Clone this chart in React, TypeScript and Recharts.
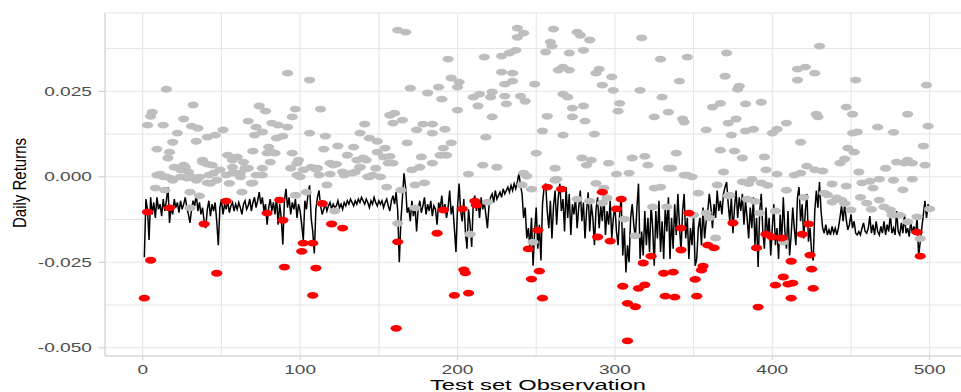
import React from "react";
import { ComposedChart, Scatter, Line, XAxis, YAxis, CartesianGrid } from "recharts";

// Observation index (x) and daily returns (y) of points above the VaR line
const grayObs = [
  15, 92, 106, 6, 5, 3, 13, 32, 26, 31, 35, 22, 19, 9, 16, 26, 24, 11, 34, 41,
  46, 51, 38, 44, 49, 36, 54, 60, 64, 57, 66, 70, 67, 74, 78, 72, 71, 76, 82, 86,
  92, 97, 95, 85, 89, 80, 79, 84, 95, 76, 98, 94, 102, 106, 116, 113, 115, 124, 130, 134,
  138, 141, 144, 149, 154, 157, 159, 119, 123, 111, 119, 127, 133, 136, 140, 148, 144, 157, 160, 159,
  162, 9, 15, 19, 28, 41, 47, 53, 62, 70, 81, 117, 146, 155, 8, 14, 30, 36, 30, 43,
  55, 63, 69, 97, 104, 100, 114, 122, 162, 18, 24, 27, 42, 57, 60, 67, 72, 98, 107, 112,
  128, 135, 138, 143, 151, 31,
  38, 41, 57, 65, 62, 76, 82, 99, 110, 121, 138, 142, 149, 153, 156, 17, 20, 13, 29, 45, 34,
  167, 238, 242, 238, 261, 276, 278, 284, 259, 260, 256, 271, 280, 317, 194, 217, 228, 233, 237, 329,
  267, 264, 271, 290, 288, 298, 228, 235, 196, 201, 235, 230, 249, 200, 170, 188, 181, 190, 210, 214,
  222, 230, 240, 243, 231, 213, 221, 267, 270, 303, 316, 330, 299, 292, 273, 280, 302, 200, 165, 222,
  257, 273, 281, 325, 178, 184, 192, 174, 184, 254, 267, 287, 218, 168, 196, 191, 189, 193, 177, 184,
  176, 171, 250, 279, 285, 282, 296, 311, 319, 321, 216, 225, 207, 262, 301, 309, 242, 244, 334, 179,
  173, 164, 173, 219, 208, 241, 247, 248, 263, 276, 284, 288, 293, 295, 292, 306, 313, 325, 329, 324,
  333, 262,
  346, 371, 430, 370, 341, 379, 378, 416, 421, 427, 416, 453, 498, 362, 367, 383, 393, 334, 343, 344,
  377, 372, 358, 383, 388, 374, 400, 403, 409, 428, 429, 447, 451, 486, 499, 467, 477, 451, 454, 418,
  448, 452, 496, 339, 367, 376, 381, 395, 336, 346, 349, 369, 396, 403, 414, 418, 422, 432, 443, 446,
  455, 472, 479, 486, 489, 497, 489, 365, 381, 387, 393, 438, 447, 457, 462, 468, 477, 483, 409, 420,
  435, 438, 444, 456, 460, 464, 468, 475, 481, 486, 492, 500, 494, 350, 358, 360, 364, 373, 392, 402,
  407, 353, 385, 397, 344, 427, 484, 372, 384, 389, 433, 441, 446, 450, 463, 471, 476,
];
const grayRet = [
  0.0256, 0.0303, 0.0283, 0.0189, 0.0177, 0.0151, 0.0151, 0.021, 0.0169, 0.0148, 0.0142, 0.0128, 0.0101, 0.0081, 0.0055, 0.0034, 0.002, 0.0008, 0.0104, 0.0116,
  0.0122, 0.0137, 0.0043, 0.0034, 0.002, -0.0001, 0.0063, 0.0058, 0.0043, 0.0011, 0.0023, 0.0075, 0.0163, 0.0207, 0.0192, 0.0145, 0.0122, 0.0131, 0.0157, 0.0151,
  0.0145, 0.0198, 0.0175, 0.0113, 0.0119, 0.0087, 0.0069, 0.0069, 0.0069, 0.0005, 0.004, 0.0025, 0.002, 0.0128, 0.0119, 0.0198, 0.0081, 0.009, 0.0063, 0.0087,
  0.0128, 0.0154, 0.0113, 0.0104, 0.0084, 0.006, 0.004, 0.004, 0.0037, 0.0025, 0.0008, 0.0014, 0.0011, 0.0049, 0.0055, 0.0025, 0.0, 0.018, 0.0186, 0.0157,
  0.0429, 0.0005, 0.0, -0.001, -0.0004, -0.0018, -0.001, 0.0005, 0.0, -0.0018, 0.0043, -0.0024, 0.0005, -0.003, -0.0033, -0.0039, -0.0045, -0.0056, -0.0091, -0.0019,
  -0.0019, -0.0045, -0.0019, -0.0054, -0.0045, 0.0, -0.0078, -0.01, -0.0136, -0.0005, 0.0, 0.0028, 0.0005, 0.0028, 0.0011, 0.0025, 0.0005, 0.0005, 0.0028, 0.0005,
  0.0005, 0.0014, 0.0028, 0.0, 0.0, 0.0,
  0.0049, 0.0037, 0.0049, 0.0025, 0.0011, 0.0025, 0.0072, 0.0049, 0.0022, 0.0034, 0.0028, 0.0049, 0.0072, 0.0058, 0.004, 0.0072, 0.0028, 0.0, 0.0014, 0.0011, -0.001,
  0.0423, 0.0435, 0.042, 0.0408, 0.0432, 0.0423, 0.0414, 0.04, 0.0394, 0.0382, 0.0365, 0.0362, 0.037, 0.0406, 0.0344, 0.035, 0.0353, 0.0362, 0.037, 0.0344,
  0.0321, 0.0312, 0.0312, 0.0315, 0.0303, 0.0292, 0.0306, 0.0303, 0.0289, 0.0277, 0.028, 0.0271, 0.0271, 0.0262, 0.0259, 0.0262, 0.0245, 0.0227, 0.0233, 0.0242,
  0.0248, 0.0236, 0.0236, 0.0221, 0.0213, 0.0207, 0.0233, 0.0242, 0.0233, 0.0215, 0.0253, 0.0233, 0.0253, 0.0268, 0.0201, 0.0207, 0.0192, 0.0195, 0.0166, 0.0175,
  0.0177, 0.0175, 0.0163, 0.0175, 0.0154, 0.0154, 0.0139, 0.0137, 0.0128, 0.0134, 0.0122, 0.0125, 0.0116, 0.0099, 0.0099, 0.0084, 0.0063, 0.0063, 0.0058, 0.004,
  0.0028, 0.002, 0.0069, 0.0055, 0.0049, 0.0034, 0.004, 0.0055, 0.006, 0.0034, 0.0034, 0.0028, 0.0008, 0.0025, 0.0008, 0.0011, 0.0011, 0.0002, 0.0025, -0.0018,
  -0.0024, -0.0039, -0.0091, -0.0074, -0.0168, -0.0024, -0.0036, -0.0191, -0.0007, -0.0065, -0.0071, -0.0019, -0.0033, -0.0062, -0.0077, -0.0124, -0.0173, -0.0033, -0.003, -0.0088,
  -0.0088, -0.001,
  0.035, 0.0362, 0.0382, 0.0294, 0.028, 0.0265, 0.0256, 0.0315, 0.0321, 0.0303, 0.0283, 0.0283, 0.0268, 0.0204, 0.0215, 0.0213, 0.0218, 0.0189, 0.0169, 0.016,
  0.0169, 0.0157, 0.0137, 0.0134, 0.0139, 0.0122, 0.0128, 0.0139, 0.0157, 0.0183, 0.0175, 0.0204, 0.0183, 0.0183, 0.0148, 0.0145, 0.013, 0.0128, 0.0131, 0.0101,
  0.0084, 0.0072, 0.009, 0.0069, 0.0078, 0.0075, 0.0055, 0.0058, 0.0025, 0.0005, 0.0, 0.0014, 0.002, 0.0008, 0.0005, 0.0011, 0.0031, 0.0017, 0.004, 0.0052,
  0.0014, 0.0025, 0.0043, 0.0049, 0.004, 0.0034, -0.0007, -0.0024, -0.0015, -0.0007, -0.0018, -0.0021, -0.0027, -0.0018, -0.0013, -0.0007, -0.001, -0.0038, -0.0039, -0.006,
  -0.0053, -0.0074, -0.0068, -0.006, -0.0077, -0.0033, -0.0068, -0.0097, -0.0112, -0.0132, -0.0117, -0.0094, -0.0181, -0.0112, -0.0106, -0.012, -0.0179, -0.0054, -0.0106, -0.01,
  -0.0191, -0.0048, -0.002, -0.0025, 0.0005, 0.002, 0.004, -0.0056, -0.0065, -0.0072, -0.0048, -0.0062, -0.0078, -0.0097, -0.0095, -0.0088, -0.0112,
];

// Observations below the VaR estimate (exceedances)
const redObs = [
  3, 5, 1, 17, 39, 47, 53, 79, 87, 89, 90, 102, 108, 101, 110, 108, 114, 120, 127, 161,
  162, 187, 191, 198, 203, 204, 205, 207, 211, 212, 245, 247, 251, 252, 254, 257, 266, 289, 297, 292,
  304, 301, 305, 308, 313, 308, 315, 319, 318, 323, 331, 332, 337, 338, 342, 342, 347, 352, 351, 355,
  356, 359, 363, 375, 390, 391, 396, 400, 406, 407, 402, 410, 413, 412, 412, 419, 423, 424, 425, 426,
  492, 494,
];
const redRet = [
  -0.0103, -0.0244, -0.0355, -0.0091, -0.0138, -0.0282, -0.0071, -0.0106, -0.0068, -0.0127, -0.0264, -0.0194, -0.0194, -0.0218, -0.0267, -0.0347, -0.0078, -0.0138, -0.015, -0.0443,
  -0.019, -0.0165, -0.0097, -0.0347, -0.0094, -0.0272, -0.0281, -0.034, -0.0071, -0.0083, -0.0211, -0.0299, -0.0156, -0.0276, -0.0355, -0.003, -0.0036, -0.0176, -0.0188, -0.0045,
  -0.0065, -0.0094, -0.032, -0.037, -0.038, -0.048, -0.0326, -0.0316, -0.0252, -0.0232, -0.0282, -0.0349, -0.0279, -0.0352, -0.015, -0.0214, -0.0106, -0.0349, -0.03, -0.0273,
  -0.0261, -0.02, -0.0208, -0.0135, -0.0208, -0.0381, -0.0168, -0.0176, -0.0179, -0.0293, -0.0317, -0.0314, -0.0311, -0.0247, -0.0355, -0.0168, -0.0138, -0.0229, -0.027, -0.0326,
  -0.0162, -0.0232,
];

// VaR estimate for observations 1..500
const varRet = [
  -0.0235, -0.0065, -0.0095, -0.0185, -0.006, -0.011, -0.0075, -0.012, -0.006, -0.0095,
  -0.008, -0.0115, -0.0065, -0.01, -0.007, -0.003, -0.0135, -0.0085, -0.011, -0.0065,
  -0.009, -0.0075, -0.0105, -0.007, -0.0095, -0.008, -0.006, -0.009, -0.011, -0.0135,
  -0.0095, -0.007, -0.0085, -0.005, -0.01, -0.0075, -0.011, -0.009, -0.013, -0.015,
  -0.0095, -0.007, -0.0115, -0.008, -0.01, -0.0075, -0.013, -0.02, -0.009, -0.0065,
  -0.011, -0.008, -0.0095, -0.007, -0.0105, -0.0085, -0.0075, -0.01, -0.008, -0.0095,
  -0.0075, -0.009, -0.011, -0.008, -0.007, -0.0095, -0.0085, -0.0065, -0.01, -0.0075,
  -0.006, -0.009, -0.007, -0.0045, -0.008, -0.006, -0.01, -0.008, -0.014, -0.009,
  -0.0065, -0.01, -0.0075, -0.011, -0.006, -0.014, -0.008, -0.012, -0.0198, -0.007,
  -0.0035, -0.009, -0.006, -0.011, -0.0075, -0.0095, -0.0065, -0.012, -0.008, -0.01,
  -0.014, -0.0185, -0.007, -0.0095, -0.005, -0.0025, -0.012, -0.016, -0.0224, -0.0095,
  -0.006, -0.004, -0.0085, -0.011, -0.0095, -0.008, -0.01, -0.0085, -0.0075, -0.0095,
  -0.008, -0.009, -0.0085, -0.007, -0.009, -0.008, -0.0095, -0.0075, -0.0085, -0.007,
  -0.008, -0.0065, -0.0075, -0.0085, -0.007, -0.008, -0.0065, -0.0075, -0.006, -0.007,
  -0.008, -0.0065, -0.0075, -0.009, -0.007, -0.008, -0.006, -0.0075, -0.0085, -0.007,
  -0.008, -0.007, -0.009, -0.0075, -0.0065, -0.0085, -0.01, -0.007, -0.0055, -0.008,
  -0.0045, -0.01, -0.025, -0.013, -0.006, 0.001, -0.003, -0.0105, -0.009, -0.013,
  -0.007, -0.0115, -0.0085, -0.016, -0.0095, -0.007, -0.0105, -0.0085, -0.006, -0.011,
  -0.008, -0.01, -0.007, -0.0115, -0.0085, -0.0095, -0.014, -0.0075, -0.0095, -0.0055,
  -0.0105, -0.008, -0.012, -0.009, -0.004, -0.011, -0.0085, -0.015, -0.022, -0.009,
  -0.002, -0.01, -0.013, -0.0065, -0.016, -0.021, -0.0095, -0.014, -0.0205, -0.0075,
  -0.0055, -0.01, -0.007, -0.012, -0.006, -0.0095, -0.0075, -0.011, -0.015, -0.0085,
  -0.006, -0.005, -0.0075, -0.004, -0.0065, -0.0055, -0.0045, -0.006, -0.0035, -0.005,
  -0.004, -0.003, -0.0045, -0.0025, -0.004, -0.002, -0.0035, -0.0015, 0.001, -0.0025,
  -0.005, -0.012, -0.009, -0.018, -0.015, -0.0205, -0.012, -0.026, -0.016, -0.009,
  -0.021, -0.014, -0.0245, -0.008, -0.003, -0.002, -0.01, -0.015, -0.007, -0.018,
  -0.0085, -0.004, -0.014, -0.006, -0.002, -0.01, -0.0065, -0.016, -0.003, -0.012,
  -0.005, -0.017, -0.008, -0.011, -0.006, -0.015, -0.009, -0.004, -0.013, -0.0075,
  -0.018, -0.01, -0.0045, -0.016, -0.008, -0.012, -0.02, -0.0095, -0.006, -0.015,
  -0.0085, -0.013, -0.005, -0.017, -0.01, -0.014, -0.007, -0.018, -0.012, -0.0085,
  -0.016, -0.02, -0.011, -0.006, -0.023, -0.015, -0.028, -0.02, -0.025, -0.012,
  -0.008, -0.014, -0.018, -0.009, -0.002, -0.024, -0.016, -0.023, -0.01, -0.02,
  -0.012, -0.022, -0.008, -0.015, -0.026, -0.01, -0.018, -0.007, -0.022, -0.013,
  -0.024, -0.009, -0.016, -0.006, -0.024, -0.012, -0.021, -0.008, -0.017, -0.005,
  -0.014, -0.022, -0.01, -0.005, -0.018, -0.012, -0.024, -0.015, -0.02, -0.011,
  -0.026, -0.024, -0.015, -0.012, -0.02, -0.009, -0.018, -0.013, -0.01, -0.005,
  -0.009, -0.015, -0.008, -0.012, -0.004, -0.01, -0.007, -0.011, -0.005, -0.003,
  -0.0015, -0.008, -0.013, -0.006, -0.0165, -0.009, -0.004, -0.012, -0.006, -0.01,
  -0.005, -0.014, -0.007, -0.012, -0.018, -0.009, -0.015, -0.006, -0.02, -0.012,
  -0.0264, -0.01, -0.005, -0.016, -0.021, -0.009, -0.018, -0.012, -0.023, -0.015,
  -0.008, -0.02, -0.015, -0.024, -0.011, -0.019, -0.006, -0.016, -0.021, -0.01,
  -0.023, -0.017, -0.009, -0.015, -0.02, -0.006, -0.003, -0.013, -0.008, -0.018,
  -0.01, -0.005, -0.019, -0.015, -0.022, -0.0245, -0.01, -0.004, -0.009, -0.0015,
  -0.01, -0.015, -0.0165, -0.014, -0.017, -0.0155, -0.017, -0.0145, -0.0165, -0.015,
  -0.017, -0.015, -0.012, -0.0085, -0.013, -0.008, -0.0125, -0.0155, -0.014, -0.011,
  -0.015, -0.013, -0.0165, -0.017, -0.016, -0.017, -0.015, -0.0135, -0.016, -0.0165,
  -0.015, -0.0115, -0.0165, -0.014, -0.017, -0.013, -0.016, -0.017, -0.0145, -0.0165,
  -0.013, -0.017, -0.014, -0.016, -0.011, -0.0165, -0.015, -0.017, -0.01, -0.016,
  -0.017, -0.0135, -0.0165, -0.011, -0.0165, -0.015, -0.0175, -0.013, -0.0165, -0.0145,
  -0.017, -0.012, -0.0232, -0.019, -0.015, -0.011, -0.007, -0.012, -0.008, -0.0095,
];

const xTicks = [0, 50, 100, 150, 200, 250, 300, 350, 400, 450, 500];
const xLabels = ["0", "100", "200", "300", "400", "500"];
const yTicks = [-0.05, -0.0375, -0.025, -0.0125, 0, 0.0125, 0.025, 0.0375];
const yLabels = ["-0.050", "-0.025", "0.000", "0.025"];

const grayData = grayObs.map((o, i) => ({ x: o, y: grayRet[i] }));
const redData = redObs.map((o, i) => ({ x: o, y: redRet[i] }));
const varData = varRet.map((v, i) => ({ x: i + 1, v }));

const STRETCH = 1.53;
const TICK_COLOR = "#4d4d4d";
const FONT = "'Liberation Sans', Arial, sans-serif";

const XTick = (props: any) => {
  const { x, y, payload } = props;
  const val = payload.value;
  const idx = xLabels.indexOf(String(val));
  if (idx < 0) return null;
  return (
    <g>
      <line x1={x} x2={x} y1={y} y2={y + 4} stroke="#cfcfcf" strokeWidth={1} />
      <text
        transform={`translate(${x},${y + 18}) scale(${STRETCH},1)`}
        textAnchor="middle"
        fontSize={12.5}
        fontFamily={FONT}
        fill={TICK_COLOR}
      >
        {xLabels[idx]}
      </text>
    </g>
  );
};

const YTick = (props: any) => {
  const { x, y, payload } = props;
  const val = payload.value;
  const map: Record<string, string> = { "-0.05": yLabels[0], "-0.025": yLabels[1], "0": yLabels[2], "0.025": yLabels[3] };
  const label = map[String(val)];
  if (!label) return null;
  return (
    <g>
      <line x1={x - 7} x2={x} y1={y} y2={y} stroke="#cfcfcf" strokeWidth={1} />
      <text
        transform={`translate(${x - 13},${y}) scale(${STRETCH},1)`}
        textAnchor="end"
        dy="0.36em"
        fontSize={12.5}
        fontFamily={FONT}
        fill={TICK_COLOR}
      >
        {label}
      </text>
    </g>
  );
};

const Dot = (color: string) => (props: any) => {
  const { cx, cy } = props;
  if (cx == null || cy == null) return null;
  return <ellipse cx={cx} cy={cy} rx={5.6} ry={3.4} fill={color} />;
};

export default function App() {
  return (
    <div style={{ position: "fixed", left: 0, top: 0, width: 961, height: 392, overflow: "hidden", background: "#fff" }}>
      <ComposedChart width={975} height={392} margin={{ top: 13, right: 6, bottom: 0, left: 0 }}>
        <CartesianGrid stroke="#e6e6e6" strokeWidth={1.1} />
        <XAxis
          dataKey="x"
          type="number"
          domain={[-24, 525]}
          ticks={xTicks}
          allowDataOverflow
          height={36}
          tickSize={0}
          tickMargin={0}
          axisLine={{ stroke: "#d2d2d2" }}
          tickLine={false}
          tick={<XTick />}
          label={{
            content: () => (
              <text
                transform={`translate(538,384) scale(${STRETCH},1)`}
                textAnchor="middle"
                dy="0.36em"
                fontSize={15.5}
                fontFamily={FONT}
                fill="#000"
              >
                Test set Observation
              </text>
            ),
          }}
        />
        <XAxis
          xAxisId="top"
          orientation="top"
          type="number"
          domain={[-24, 525]}
          height={0}
          tick={false}
          tickLine={false}
          axisLine={{ stroke: "#e0e0e0" }}
        />
        <YAxis
          type="number"
          domain={[-0.0524, 0.0479]}
          ticks={yTicks}
          allowDataOverflow
          width={105}
          tickSize={0}
          tickMargin={0}
          axisLine={{ stroke: "#d2d2d2" }}
          tickLine={false}
          tick={<YTick />}
          label={{
            content: () => (
              <text
                transform={`translate(20,183) scale(1.2,1) rotate(-90)`}
                textAnchor="middle"
                dy="0.36em"
                fontSize={15}
                fontFamily={FONT}
                fill="#000"
              >
                Daily Returns
              </text>
            ),
          }}
        />
        <Line
          data={varData}
          dataKey="v"
          type="linear"
          stroke="#000"
          strokeWidth={1.5}
          dot={false}
          activeDot={false}
          isAnimationActive={false}
        />
        <Scatter data={grayData} dataKey="y" fill="#bebebe" shape={Dot("#bebebe")} isAnimationActive={false} />
        <Scatter data={redData} dataKey="y" fill="#ff0000" shape={Dot("#ff0000")} isAnimationActive={false} />
      </ComposedChart>
    </div>
  );
}
